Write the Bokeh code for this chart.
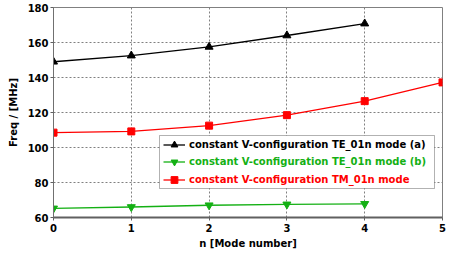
from bokeh.plotting import figure
from bokeh.models import Legend, LegendItem, BoxAnnotation, Range1d, FixedTicker
from bokeh.embed import file_html
from bokeh.resources import INLINE

n_a = [0, 1, 2, 3, 4]
te_a = [149.0, 152.5, 157.5, 164.0, 170.8]
n_b = [0, 1, 2, 3, 4]
te_b = [65.2, 66.0, 67.0, 67.5, 67.8]
n_tm = [0, 1, 2, 3, 4, 5]
tm = [108.5, 109.2, 112.5, 118.5, 126.5, 137.2]

labels = ["constant V-configuration TE_01n mode (a)",
          "constant V-configuration TE_01n mode (b)",
          "constant V-configuration TM_01n mode"]
colors = ["#000000", "#14b014", "#ff0000"]

FONT = "DejaVu Sans"

p = figure(width=455, height=253, output_backend="svg", toolbar_location=None,
           x_range=Range1d(0, 5), y_range=Range1d(60, 180),
           min_border_left=53, min_border_right=13, min_border_top=7, min_border_bottom=36)
p.outline_line_color = "#808080"
p.outline_line_width = 1

p.xaxis.ticker = FixedTicker(ticks=[0, 1, 2, 3, 4, 5])
p.yaxis.ticker = FixedTicker(ticks=[60, 80, 100, 120, 140, 160, 180])
for ax in (p.xaxis[0], p.yaxis[0]):
    ax.major_tick_line_color = "#606060"
    ax.major_tick_out = 3
    ax.major_tick_in = 0
    ax.minor_tick_line_color = None
    ax.major_label_text_font = FONT
    ax.major_label_text_font_style = "bold"
    ax.major_label_text_font_size = "10px"
    ax.major_label_text_color = "#000000"
    ax.axis_label_text_font = FONT
    ax.axis_label_text_font_style = "bold"
    ax.axis_label_text_font_size = "10px"
    ax.axis_label_text_color = "#000000"
p.xaxis.axis_line_color = "#606060"
p.xaxis.axis_line_width = 2
p.yaxis.axis_line_color = "#707070"
p.yaxis.axis_line_width = 1
p.xaxis.axis_label = "n [Mode number]"
p.yaxis.axis_label = "Freq / [MHz]"
p.xaxis.axis_label_standoff = 3
p.yaxis.axis_label_standoff = 6
p.xaxis.major_label_standoff = 3
p.yaxis.major_label_standoff = 2

p.xgrid.grid_line_color = "#808080"
p.ygrid.grid_line_color = "#808080"
p.xgrid.grid_line_dash = "2 2"
p.ygrid.grid_line_dash = "2 2"

la = p.line(n_a, te_a, line_color=colors[0], line_width=1.3)
sa = p.scatter(n_a, te_a, marker="triangle", size=8, color=colors[0])
lb = p.line(n_b, te_b, line_color=colors[1], line_width=1.3)
sb = p.scatter(n_b, te_b, marker="inverted_triangle", size=8, color=colors[1])
lc = p.line(n_tm, tm, line_color=colors[2], line_width=1.3)
sc = p.scatter(n_tm, tm, marker="square", size=7, color=colors[2])

box = BoxAnnotation(left=106, right=381, bottom=29, top=82,
                    left_units="screen", right_units="screen",
                    bottom_units="screen", top_units="screen",
                    fill_color="white", fill_alpha=1.0,
                    line_color="black", line_width=1)
p.add_layout(box)

rend = [[la, sa], [lb, sb], [lc, sc]]
ys = [64, 47, 29]
for i in range(3):
    lg = Legend(items=[LegendItem(label=labels[i], renderers=rend[i])],
                location=(110, ys[i]), border_line_color=None,
                background_fill_alpha=0, padding=0, margin=0, spacing=0,
                glyph_width=22, glyph_height=17, label_height=17,
                label_standoff=4,
                label_text_font=FONT, label_text_font_style="bold",
                label_text_font_size="10px", label_text_color=colors[i])
    p.add_layout(lg)

open("out.html", "w").write(file_html(p, INLINE))
